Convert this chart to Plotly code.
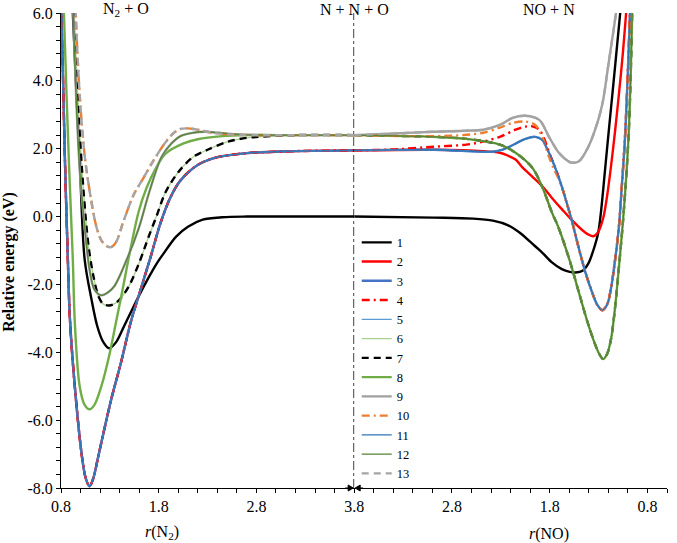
import plotly.graph_objects as go

# ---------------- data: left half, x = r(N2) ----------------
L_BLACK_R = [0.916, 0.921, 0.991, 1.042, 1.112, 1.172, 1.233, 1.293, 1.364, 1.444, 1.595, 1.696, 1.776, 1.847, 1.978, 2.099, 2.250, 2.451, 2.703, 3.206, 3.800]
L_BLACK_E = [6.8, 6.0, 1.7, -1.26, -2.44, -3.24, -3.7, -3.88, -3.7, -3.24, -2.35, -1.8, -1.4, -1.1, -0.59, -0.3, -0.09, -0.02, 0.0, 0.0, 0.0]

L_DEEP_R = [0.795, 0.805, 0.840, 0.870, 0.891, 0.941, 1.011, 1.052, 1.092, 1.132, 1.172, 1.233, 1.313, 1.414, 1.515, 1.615, 1.716, 1.817, 1.917, 2.018, 2.149, 2.250, 2.401, 2.703, 3.206, 3.800]
L_DEEP_E = [6.8, 6.0, 1.7, -1.26, -3.0, -5.0, -7.0, -7.7, -7.95, -7.7, -7.2, -6.4, -5.4, -4.3, -3.1, -2.15, -1.2, -0.2, 0.55, 1.05, 1.42, 1.6, 1.75, 1.87, 1.93, 1.95]

L_G8_R = [0.825, 0.830, 0.881, 0.921, 0.941, 0.991, 1.042, 1.092, 1.142, 1.213, 1.293, 1.364, 1.444, 1.515, 1.595, 1.676, 1.766, 1.867, 2.048, 2.199, 2.451, 2.703, 3.206, 3.800]
L_G8_E = [6.8, 6.0, 1.6, -1.26, -3.1, -5.0, -5.55, -5.68, -5.55, -5.0, -4.1, -3.1, -1.95, -0.9, 0.15, 0.85, 1.4, 1.85, 2.15, 2.28, 2.37, 2.4, 2.4, 2.4]

L_G4_R = [0.931, 0.936, 0.981, 1.032, 1.082, 1.132, 1.183, 1.233, 1.293, 1.354, 1.414, 1.495, 1.595, 1.696, 1.776, 1.867, 1.998, 2.149, 2.300, 2.501, 2.703, 3.206, 3.800]
L_G4_E = [6.8, 6.0, 3.0, 0.7, -0.88, -1.76, -2.35, -2.58, -2.62, -2.56, -2.4, -2.05, -1.4, -0.6, 0.0, 0.7, 1.3, 1.75, 1.97, 2.2, 2.32, 2.4, 2.4]

L_G5_R = [0.921, 0.926, 0.991, 1.042, 1.092, 1.142, 1.213, 1.273, 1.344, 1.474, 1.595, 1.706, 1.827, 1.928, 2.028, 2.149, 2.270, 2.451, 2.703, 3.206, 3.800]
L_G5_E = [6.8, 6.0, 1.4, -0.29, -1.56, -2.15, -2.32, -2.25, -2.06, -1.26, -0.35, 0.75, 1.75, 2.15, 2.38, 2.47, 2.5, 2.46, 2.41, 2.4, 2.4]

L_G6_R = [0.946, 0.951, 0.991, 1.042, 1.102, 1.162, 1.213, 1.273, 1.313, 1.364, 1.444, 1.545, 1.646, 1.746, 1.867, 1.948, 2.018, 2.099, 2.199, 2.350, 2.532, 2.803, 3.206, 3.800]
L_G6_E = [6.8, 6.0, 3.6, 1.8, 0.6, -0.3, -0.7, -0.88, -0.9, -0.75, -0.1, 0.65, 1.15, 1.65, 2.18, 2.45, 2.58, 2.6, 2.56, 2.47, 2.42, 2.4, 2.4, 2.4]

# ---------------- data: right half, x = r(NO) ----------------
R_BLACK_R = [3.800, 2.985, 2.582, 2.381, 2.230, 2.109, 1.978, 1.877, 1.777, 1.676, 1.595, 1.535, 1.464, 1.404, 1.354, 1.303, 1.273, 1.233, 1.193, 1.152, 1.112, 1.072, 1.052]
R_BLACK_E = [0.0, -0.03, -0.06, -0.12, -0.25, -0.47, -0.8, -1.06, -1.35, -1.55, -1.63, -1.65, -1.6, -1.38, -1.0, -0.47, 0.2, 1.4, 2.6, 3.8, 5.0, 6.2, 6.8]

R_RED_R = [3.800, 2.985, 2.481, 2.310, 2.230, 2.149, 2.079, 1.978, 1.877, 1.777, 1.676, 1.575, 1.474, 1.404, 1.354, 1.303, 1.253, 1.213, 1.172, 1.132, 1.092, 1.052, 1.021, 1.001]
R_RED_E = [1.95, 1.97, 1.93, 1.88, 1.8, 1.68, 1.45, 1.18, 0.9, 0.55, 0.22, -0.1, -0.38, -0.53, -0.58, -0.45, -0.05, 0.6, 1.5, 2.5, 3.6, 4.8, 5.9, 6.6]

R_BLUE_R = [3.800, 2.985, 2.381, 2.280, 2.209, 2.129, 2.048, 1.948, 1.877, 1.827, 1.777, 1.726, 1.676, 1.605, 1.575, 1.505, 1.434, 1.364, 1.313, 1.263, 1.213, 1.172, 1.132, 1.092, 1.062, 1.032, 1.011, 0.991, 0.976, 0.961]
R_BLUE_E = [1.95, 1.97, 1.91, 1.97, 2.06, 2.18, 2.29, 2.35, 2.26, 2.0, 1.68, 1.3, 0.88, 0.2, -0.1, -0.9, -1.65, -2.25, -2.6, -2.76, -2.6, -2.1, -1.3, -0.3, 0.9, 2.2, 3.5, 5.0, 6.2, 6.8]

R_REDDD_R = [3.800, 3.387, 2.985, 2.652, 2.481, 2.310, 2.149, 2.048, 1.978, 1.907, 1.857, 1.807, 1.777, 1.726, 1.676, 1.605, 1.575, 1.505, 1.434, 1.364, 1.313, 1.263, 1.213, 1.172, 1.132, 1.092, 1.062, 1.032, 1.011, 0.991, 0.976, 0.961]
R_REDDD_E = [1.95, 1.98, 2.06, 2.12, 2.21, 2.35, 2.56, 2.65, 2.66, 2.56, 2.3, 1.9, 1.68, 1.3, 0.88, 0.2, -0.1, -0.9, -1.65, -2.25, -2.6, -2.76, -2.6, -2.1, -1.3, -0.3, 0.9, 2.2, 3.5, 5.0, 6.2, 6.8]

R_ORANGE_R = [3.800, 2.985, 2.652, 2.481, 2.310, 2.179, 2.048, 1.948, 1.877, 1.807, 1.756, 1.706, 1.676, 1.605, 1.575, 1.505, 1.434, 1.364, 1.313, 1.263, 1.213, 1.172, 1.132, 1.092, 1.062, 1.032, 1.011, 0.991, 0.976, 0.961]
R_ORANGE_E = [2.4, 2.37, 2.41, 2.47, 2.62, 2.76, 2.8, 2.7, 2.35, 1.76, 1.4, 1.1, 0.88, 0.2, -0.1, -0.9, -1.65, -2.25, -2.6, -2.76, -2.6, -2.1, -1.3, -0.3, 0.9, 2.2, 3.5, 5.0, 6.2, 6.8]

R_GRAY_R = [3.800, 3.387, 2.985, 2.652, 2.481, 2.310, 2.179, 2.048, 1.907, 1.807, 1.706, 1.605, 1.575, 1.505, 1.404, 1.303, 1.253, 1.203, 1.162, 1.122, 1.102]
R_GRAY_E = [2.4, 2.45, 2.5, 2.53, 2.56, 2.7, 2.91, 2.97, 2.85, 2.35, 1.88, 1.62, 1.59, 1.62, 2.06, 2.85, 3.44, 4.41, 5.2, 6.0, 6.5]

R_GREEN_R = [3.800, 2.985, 2.652, 2.310, 2.149, 1.978, 1.877, 1.777, 1.706, 1.595, 1.495, 1.414, 1.344, 1.293, 1.253, 1.213, 1.172, 1.132, 1.092, 1.052, 1.021, 0.991, 0.971, 0.956, 0.946]
R_GREEN_E = [2.4, 2.35, 2.29, 2.12, 1.88, 1.44, 0.88, 0.12, -0.35, -1.3, -2.3, -3.1, -3.7, -4.05, -4.2, -4.05, -3.6, -2.7, -1.5, -0.2, 1.0, 2.5, 4.2, 6.0, 6.8]

SERIES_NAMES = ["1", "2", "3", "4", "5", "6", "7", "8", "9", "10", "11", "12", "13"]
X_TICKS_LEFT = [0.8, 1.8, 2.8, 3.8]
X_TICKS_RIGHT = [2.8, 1.8, 0.8]
Y_TICKS = [-8, -6, -4, -2, 0, 2, 4, 6]

LEFT = {
    "1": (L_BLACK_R, L_BLACK_E), "2": (L_DEEP_R, L_DEEP_E), "3": (L_DEEP_R, L_DEEP_E),
    "4": (L_DEEP_R, L_DEEP_E), "5": (L_DEEP_R, L_DEEP_E), "6": (L_G4_R, L_G4_E),
    "7": (L_G4_R, L_G4_E), "8": (L_G8_R, L_G8_E), "9": (L_G5_R, L_G5_E),
    "10": (L_G6_R, L_G6_E), "11": (L_DEEP_R, L_DEEP_E), "12": (L_G5_R, L_G5_E),
    "13": (L_G6_R, L_G6_E),
}
RIGHT = {
    "1": (R_BLACK_R, R_BLACK_E), "2": (R_RED_R, R_RED_E), "3": (R_BLUE_R, R_BLUE_E),
    "4": (R_REDDD_R, R_REDDD_E), "5": (R_BLUE_R, R_BLUE_E), "6": (R_GREEN_R, R_GREEN_E),
    "7": (R_GREEN_R, R_GREEN_E), "8": (R_GREEN_R, R_GREEN_E), "9": (R_GRAY_R, R_GRAY_E),
    "10": (R_ORANGE_R, R_ORANGE_E), "11": (R_BLUE_R, R_BLUE_E), "12": (R_GREEN_R, R_GREEN_E),
    "13": (R_GRAY_R, R_GRAY_E),
}

# styles
DD = "8px,4px,2px,4px"
DASH = "7px,5px"
STYLE = {
    "1": ("#000000", 2.4, "solid"),
    "2": ("#FF0000", 2.4, "solid"),
    "3": ("#4472C4", 2.4, "solid"),
    "4": ("#FF0000", 2.4, DD),
    "5": ("#5B9BD5", 1.3, "solid"),
    "6": ("#A9D18E", 1.3, "solid"),
    "7": ("#000000", 2.4, DASH),
    "8": ("#70AD47", 2.4, "solid"),
    "9": ("#A0A0A0", 2.4, "solid"),
    "10": ("#ED7D31", 2.4, DD),
    "11": ("#2E75B6", 1.3, "solid"),
    "12": ("#548235", 1.3, "solid"),
    "13": ("#A5A5A5", 2.4, DASH),
}

fig = go.Figure()
for name in SERIES_NAMES:
    c, w, d = STYLE[name]
    xr, ye = LEFT[name]
    fig.add_trace(go.Scatter(x=xr, y=ye, mode="lines", name=name, legendgroup=name,
                             line=dict(color=c, width=w, dash=d, shape="spline", smoothing=0.9),
                             xaxis="x", yaxis="y", hoverinfo="skip"))
for name in SERIES_NAMES:
    c, w, d = STYLE[name]
    xr, ye = RIGHT[name]
    fig.add_trace(go.Scatter(x=xr, y=ye, mode="lines", name=name, legendgroup=name, showlegend=False,
                             line=dict(color=c, width=w, dash=d, shape="spline", smoothing=0.9),
                             xaxis="x2", yaxis="y", hoverinfo="skip"))

FONT = "Liberation Serif"
split = 298 / 616

minor_left = [round(0.8 + 0.2 * k, 1) for k in range(16)]
minor_right = [round(0.6 + 0.2 * k, 1) for k in range(17)]
minor_y = [round(-8 + 0.4 * k, 1) for k in range(36)]

axis_common = dict(showline=True, linecolor="black", linewidth=1, ticks="outside", ticklen=4,
                   tickcolor="black", showgrid=False, zeroline=False,
                   tickfont=dict(family=FONT, size=16, color="black"))

fig.update_layout(
    width=677, height=543,
    margin=dict(l=61, r=0, t=13, b=55),
    plot_bgcolor="white", paper_bgcolor="white",
    font=dict(family=FONT, size=15, color="black"),
    xaxis=dict(domain=[0, split], range=[0.8, 3.8], anchor="y",
               tickmode="array", tickvals=X_TICKS_LEFT, ticktext=[f"{v:.1f}" for v in X_TICKS_LEFT],
               minor=dict(tickmode="array", tickvals=minor_left, ticks="outside", ticklen=4, tickcolor="black"),
               **axis_common),
    xaxis2=dict(domain=[split, 1], range=[3.8, 0.6], anchor="y",
                tickmode="array", tickvals=X_TICKS_RIGHT, ticktext=[f"{v:.1f}" for v in X_TICKS_RIGHT],
                minor=dict(tickmode="array", tickvals=minor_right, ticks="outside", ticklen=4, tickcolor="black"),
                **axis_common),
    yaxis=dict(domain=[0, 1], range=[-8, 6], anchor="x",
               tickmode="array", tickvals=Y_TICKS, ticktext=[f"{v:.1f}" for v in Y_TICKS],
               minor=dict(tickmode="array", tickvals=minor_y, ticks="outside", ticklen=4, tickcolor="black"),
               **axis_common),
    legend=dict(x=0.488, y=0.548, xanchor="left", yanchor="top", bgcolor="rgba(0,0,0,0)",
                font=dict(family=FONT, size=12.5, color="black"), tracegroupgap=0, itemwidth=30),
    showlegend=True,
)

# vertical separator at the dissociation limit
fig.add_shape(type="line", xref="x", yref="paper", x0=3.8, x1=3.8, y0=0, y1=1,
              line=dict(color="black", width=1.5, dash="dashdot"))
# small arrowheads pointing at 3.8 on the axis (one from each side)
for xr_name, path in (("x", "M -9 0 L -2 0 M -6 -3 L -1 0 L -6 3 Z"),
                      ("x2", "M 9 0 L 2 0 M 6 -3 L 1 0 L 6 3 Z")):
    fig.add_shape(type="path", xref=xr_name, yref="paper", xsizemode="pixel", ysizemode="pixel",
                  xanchor=3.8, yanchor=0, path=path,
                  line=dict(color="black", width=1), fillcolor="black")

ann = []
ann.append(dict(text="N<sub>2</sub> + O", xref="x", x=1.47, yref="paper", y=1, yshift=4, yanchor="middle", showarrow=False, font=dict(size=16)))
ann.append(dict(text="N + N + O", xref="x", x=3.8, yref="paper", y=1, yshift=4, yanchor="middle", showarrow=False, font=dict(size=16)))
ann.append(dict(text="NO + N", xref="x2", x=1.807, yref="paper", y=1, yshift=4, yanchor="middle", showarrow=False, font=dict(size=16)))
ann.append(dict(text="<i>r</i>(N<sub>2</sub>)", xref="x", x=1.83, yref="paper", y=-0.093, yanchor="middle", showarrow=False, font=dict(size=16)))
ann.append(dict(text="<i>r</i>(NO)", xref="x2", x=1.807, yref="paper", y=-0.097, yanchor="middle", showarrow=False, font=dict(size=16)))
ann.append(dict(text="<b>Relative energy (eV)</b>", xref="paper", x=-0.086, yref="paper", y=0.476,
                textangle=-90, showarrow=False, xanchor="center", yanchor="middle", font=dict(size=16)))
fig.update_layout(annotations=ann)

fig.write_html("out.html", config={"displayModeBar": False})
